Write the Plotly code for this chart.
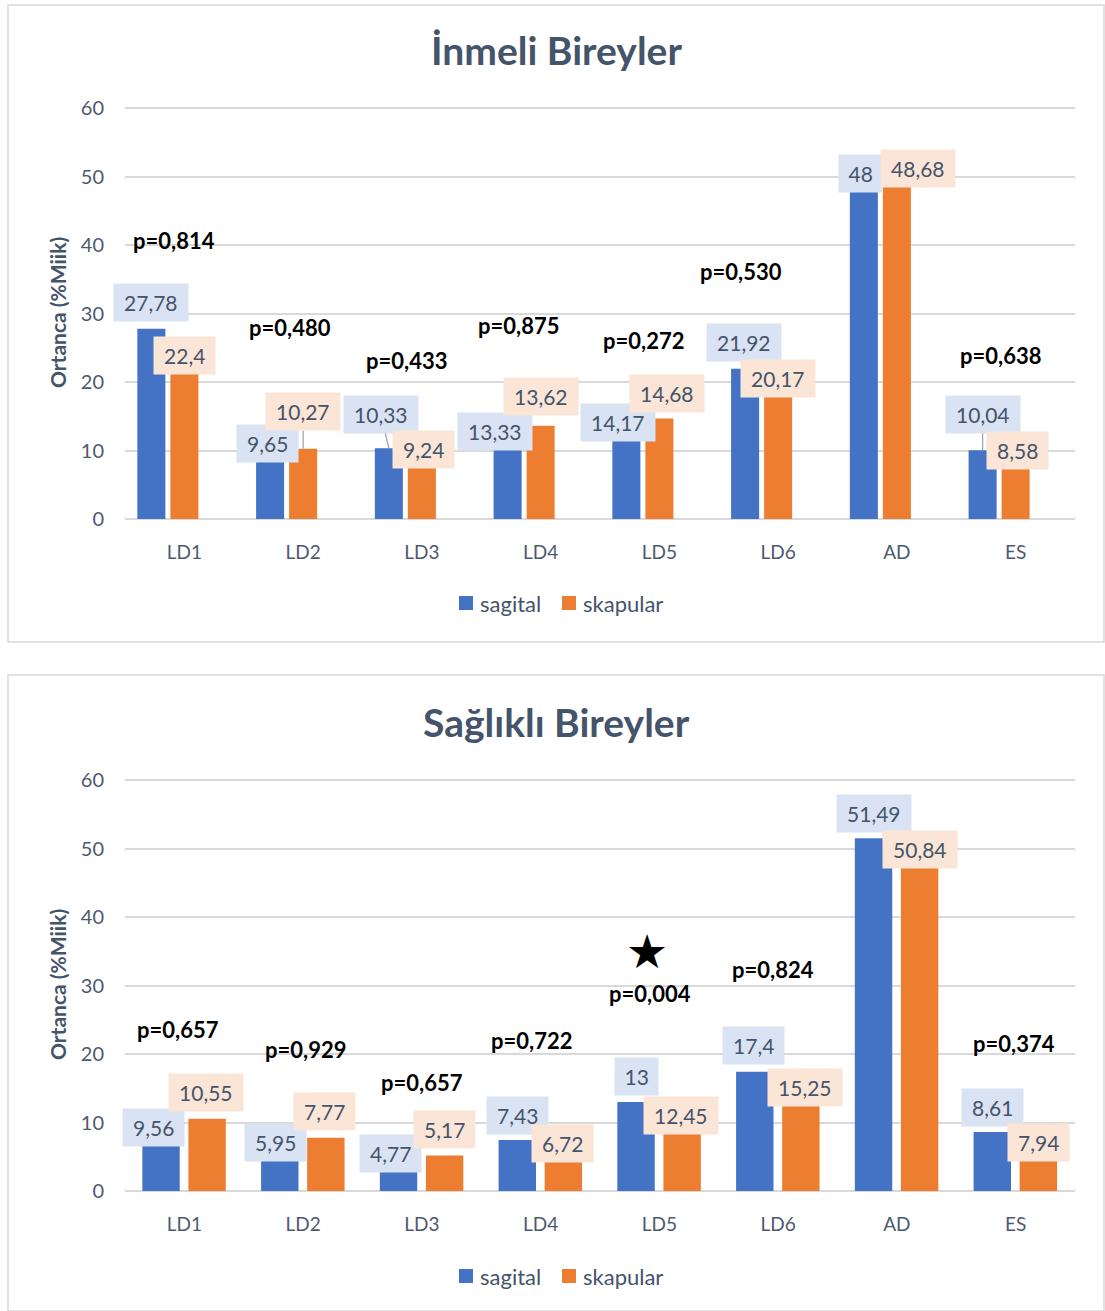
import plotly.graph_objects as go

# ---------------- data ----------------
categories = ["LD1", "LD2", "LD3", "LD4", "LD5", "LD6", "AD", "ES"]
series_names = ["sagital", "skapular"]

inmeli_sagital = [27.78, 9.65, 10.33, 13.33, 14.17, 21.92, 48, 10.04]
inmeli_skapular = [22.4, 10.27, 9.24, 13.62, 14.68, 20.17, 48.68, 8.58]
inmeli_p = ["p=0,814", "p=0,480", "p=0,433", "p=0,875", "p=0,272", "p=0,530", "p=0,721", "p=0,638"]

saglikli_sagital = [9.56, 5.95, 4.77, 7.43, 13, 17.4, 51.49, 8.61]
saglikli_skapular = [10.55, 7.77, 5.17, 6.72, 12.45, 15.25, 50.84, 7.94]
saglikli_p = ["p=0,657", "p=0,929", "p=0,657", "p=0,722", "p=0,004", "p=0,824", "p=0,333", "p=0,374"]
significant = [False, False, False, False, True, False, False, False]

titles = ["İnmeli Bireyler", "Sağlıklı Bireyler"]
y_title = "Ortanca (%Miik)"
y_ticks = [0, 10, 20, 30, 40, 50, 60]

# ---------------- style ----------------
FONT = "Lato"
SLATE = "#44546A"
TICK = "#4D5A6E"
BLUE = "#4472C4"
ORANGE = "#ED7D31"
BLUE_BG = "#DAE3F3"
ORANGE_BG = "#FBE5D6"
GRID = "#D9D9D9"
W, H = 1105, 1311
LABEL_SIZE = 21

def fmt(v):
    return ("%g" % v).replace(".", ",")

# label offsets (xshift, yshift in px relative to bar top centre)
top_sag_off = [(0, 26), (-3, 9), (-8, 34), (-13, -4), (-8, -1), (-1, 26), (-3, 17), (0, 36)]
top_ska_off = [(0, 10), (0, 37), (2, 6), (0, 29), (8, 25), (0, 2), (21, 17), (2, 10)]
top_sag_leader = [False, False, True, False, False, False, False, True]
top_ska_leader = [False, True, False, False, False, False, False, False]
bot_sag_off = [(-8, -2), (-4, 8), (-8, 5), (0, 25), (0, 25), (-1, 26), (0, 25), (0, 25)]
bot_ska_off = [(-1, 26), (-1, 26), (0, 26), (-1, 1), (-1, -10), (4, -1), (0, -7), (0, -6)]

# p-value label placement (xshift px, y level)
top_p_pos = [(-10, 40.6), (-13, 27.9), (-15, 23.2), (-22, 28.2), (-16, 26.1), (-37, 36.2), (-8, 61.6), (-15, 23.8)]
bot_p_pos = [(-6, 23.65), (2, 20.7), (0, 15.8), (-9, 22.0), (-9, 28.9), (-5, 32.3), (-6, 64.5), (-2, 21.6)]

# bar geometry per chart (offset, width in category units)
top_geom = dict(sag=(-0.396, 0.236), ska=(-0.118, 0.236))
bot_geom = dict(sag=(-0.354, 0.315), ska=(0.034, 0.315))

# pixel layout
x_left, x_right = 125, 1075
Y_EXTRA = 0.15  # small headroom so the 60 gridline is drawn
charts = [
    dict(y0=519, y60=108, box=(8, 5, 1104, 642), title_y=50, ytitle_y=313, legend_y=603,
         sag=inmeli_sagital, ska=inmeli_skapular, p=inmeli_p, geom=top_geom,
         sag_off=top_sag_off, ska_off=top_ska_off, p_pos=top_p_pos,
         sag_lead=top_sag_leader, ska_lead=top_ska_leader, sig=[False] * 8),
    dict(y0=1191, y60=780, box=(8, 675, 1104, 1311), title_y=722, ytitle_y=985, legend_y=1276,
         sag=saglikli_sagital, ska=saglikli_skapular, p=saglikli_p, geom=bot_geom,
         sag_off=bot_sag_off, ska_off=bot_ska_off, p_pos=bot_p_pos,
         sag_lead=[False] * 8, ska_lead=[False] * 8, sig=significant),
]
legend_items = [(459, 478), (562, 581)]  # (square left px, text left px)

def px(v):
    return v / W

def py(v):
    return 1 - v / H

fig = go.Figure()
annotations = []
shapes = []
xs = list(range(len(categories)))

def text_width(s, size=LABEL_SIZE):
    w = 0
    for ch in s:
        w += 0.28 * size if ch == "," else 0.58 * size
    return w

for ci, c in enumerate(charts):
    n = "" if ci == 0 else str(ci + 1)
    xa, ya = "x" + n, "y" + n
    for si, (name, vals, color, key) in enumerate([(series_names[0], c["sag"], BLUE, "sag"),
                                                   (series_names[1], c["ska"], ORANGE, "ska")]):
        off, wd = c["geom"][key]
        fig.add_trace(go.Bar(
            x=xs, y=vals, name=name, marker=dict(color=color, line=dict(width=0)),
            offset=off, width=wd, xaxis=xa, yaxis=ya,
            hoverinfo="skip", showlegend=False,
        ))
        offs = c[key + "_off"]
        leads = c[key + "_lead"]
        bg = BLUE_BG if key == "sag" else ORANGE_BG
        for i, v in enumerate(vals):
            txt = fmt(v)
            xc = i + off + wd / 2
            dx, dy = offs[i]
            a = dict(x=xc, y=v, xref=xa, yref=ya, text=txt,
                     font=dict(family=FONT, size=LABEL_SIZE, color=SLATE),
                     bgcolor=bg, borderpad=0, width=text_width(txt) + 19, height=37,
                     align="center", valign="middle")
            if leads[i]:
                a.update(showarrow=True, ax=dx, ay=-dy, arrowhead=0, arrowwidth=1.3,
                         arrowcolor="#A6A6A6", axref="pixel", ayref="pixel", standoff=0)
            else:
                a.update(showarrow=False, xshift=dx, yshift=dy)
            annotations.append(a)
        # manual legend entry
        sq_left, tx_left = legend_items[si]
        ly = c["legend_y"]
        shapes.append(dict(type="rect", xref="paper", yref="paper",
                           x0=px(sq_left), x1=px(sq_left + 14), y0=py(ly + 7), y1=py(ly - 7),
                           fillcolor=color, line=dict(width=0)))
        annotations.append(dict(x=px(tx_left), y=py(ly), xref="paper", yref="paper",
                                text=name, showarrow=False, xanchor="left", yanchor="middle",
                                font=dict(family=FONT, size=22, color=SLATE)))
    # p-values
    for i, ptxt in enumerate(c["p"]):
        dx, lvl = c["p_pos"][i]
        annotations.append(dict(x=i, y=lvl, xref=xa, yref=ya, text="<b>%s</b>" % ptxt,
                                showarrow=False, xshift=dx,
                                font=dict(family=FONT, size=22, color="#000000")))
        if c["sig"][i]:
            annotations.append(dict(x=i, y=lvl, xref=xa, yref=ya, text="★",
                                    showarrow=False, xshift=dx - 3, yshift=42,
                                    font=dict(family="DejaVu Sans", size=47, color="#000000")))
    # titles
    annotations.append(dict(x=px(556), y=py(c["title_y"]), xref="paper", yref="paper",
                            text="<b>%s</b>" % titles[ci], showarrow=False,
                            xanchor="center", yanchor="middle",
                            font=dict(family=FONT, size=39, color=SLATE)))
    annotations.append(dict(x=px(57), y=py(c["ytitle_y"]), xref="paper", yref="paper",
                            text="<b>%s</b>" % y_title, showarrow=False, textangle=-90,
                            xanchor="center", yanchor="middle",
                            font=dict(family=FONT, size=21, color=SLATE)))
    # border box
    bx0, by0, bx1, by1 = c["box"]
    shapes.append(dict(type="rect", xref="paper", yref="paper",
                       x0=px(bx0), x1=px(bx1), y0=py(by0), y1=py(by1),
                       line=dict(color=GRID, width=1.5), fillcolor="rgba(0,0,0,0)", layer="below"))
    # axes
    scale = (c["y0"] - c["y60"]) / 60.0
    xdom = [px(x_left), px(x_right)]
    ydom = [py(c["y0"]), py(c["y60"] - Y_EXTRA * scale)]
    fig.update_layout(**{
        "xaxis" + n: dict(domain=xdom, range=[-0.5, 7.5], tickvals=xs, ticktext=categories,
                          showgrid=False, zeroline=False, showline=False, ticks="",
                          tickfont=dict(family=FONT, size=19, color=TICK),
                          ticklabelstandoff=20, anchor=ya, fixedrange=True, automargin=False),
        "yaxis" + n: dict(domain=ydom, range=[0, 60 + Y_EXTRA], tickvals=y_ticks,
                          showgrid=True, gridcolor=GRID, gridwidth=1.5,
                          zeroline=True, zerolinecolor=GRID, zerolinewidth=1.5,
                          showline=False, ticks="",
                          tickfont=dict(family=FONT, size=20, color=TICK),
                          ticklabelstandoff=20, anchor=xa, fixedrange=True, automargin=False),
    })

fig.update_layout(
    template="none",
    width=W, height=H, margin=dict(l=0, r=0, t=0, b=0, autoexpand=False),
    paper_bgcolor="white", plot_bgcolor="white", showlegend=False,
    annotations=annotations, shapes=shapes, barmode="group",
    font=dict(family=FONT, color=SLATE),
)

fig.write_html("out.html", config={"displayModeBar": False})
